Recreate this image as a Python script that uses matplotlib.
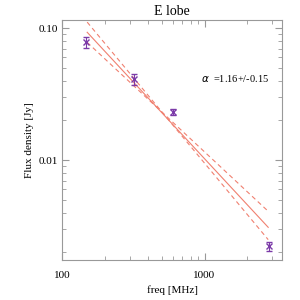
import numpy as np
import matplotlib
matplotlib.use('Agg')
from matplotlib import pyplot as plt
from matplotlib.ticker import FixedLocator, LogLocator, NullFormatter

plt.rcParams['font.family'] = ['Liberation Serif', 'DejaVu Serif']

# measured points
freq = [147, 321, 605, 2825]
flux = [0.078, 0.041, 0.0231, 0.00223]
flux_err = [0.0075, 0.0038, 0.0012, 0.00018]

# fitted power law and its +/- error lines (end points)
fit_freq = [150, 2800]
fit_flux = [0.093, 0.0031]
fit_steep = [0.111, 0.0025]
fit_flat = [0.078, 0.0041]

line_col = '#f08070'
pt_col = '#7b3aa8'

fig = plt.figure(figsize=(3, 3), dpi=100)
ax = fig.add_axes([0.207, 0.133, 0.733, 0.80])

ax.plot(fit_freq, fit_flux, color=line_col, lw=0.8)
ax.plot(fit_freq, fit_steep, color=line_col, lw=0.8, ls=(0, (4, 3)))
ax.plot(fit_freq, fit_flat, color=line_col, lw=0.8, ls=(0, (4, 3)))
ax.errorbar(freq, flux, yerr=flux_err, fmt='x', color=pt_col, ms=5, mew=1,
            elinewidth=0.8, capsize=2.5, capthick=0.8)

ax.set_xscale('log')
ax.set_yscale('log')
ax.set_xlim(100, 3500)
ax.set_ylim(0.00175, 0.115)

ax.xaxis.set_major_locator(FixedLocator([100, 1000]))
ax.set_xticklabels(['100', '1000'])
ax.xaxis.set_minor_locator(LogLocator(subs=np.arange(2, 10)))
ax.xaxis.set_minor_formatter(NullFormatter())
ax.yaxis.set_major_locator(FixedLocator([0.01, 0.1]))
ax.set_yticklabels(['0.01', '0.10'])
ax.yaxis.set_minor_locator(LogLocator(subs=np.arange(2, 10)))
ax.yaxis.set_minor_formatter(NullFormatter())

ax.tick_params(which='both', direction='in', top=True, right=True,
               labelsize=8, color='#999999')
ax.tick_params(axis='x', pad=8)
ax.tick_params(axis='y', pad=3)
ax.tick_params(which='major', length=5)
ax.tick_params(which='minor', length=3)
for s in ax.spines.values():
    s.set_color('#999999')
    s.set_linewidth(0.8)

ax.set_title('E lobe', fontsize=10, pad=4)
ax.set_xlabel('freq [MHz]', fontsize=8, labelpad=4)
ax.set_ylabel('Flux density [Jy]', fontsize=8, labelpad=3)
ax.text(0.63, 0.74, r'$\alpha$  =1.16+/-0.15', transform=ax.transAxes, fontsize=7.5)

plt.savefig('out.png', dpi=100)
